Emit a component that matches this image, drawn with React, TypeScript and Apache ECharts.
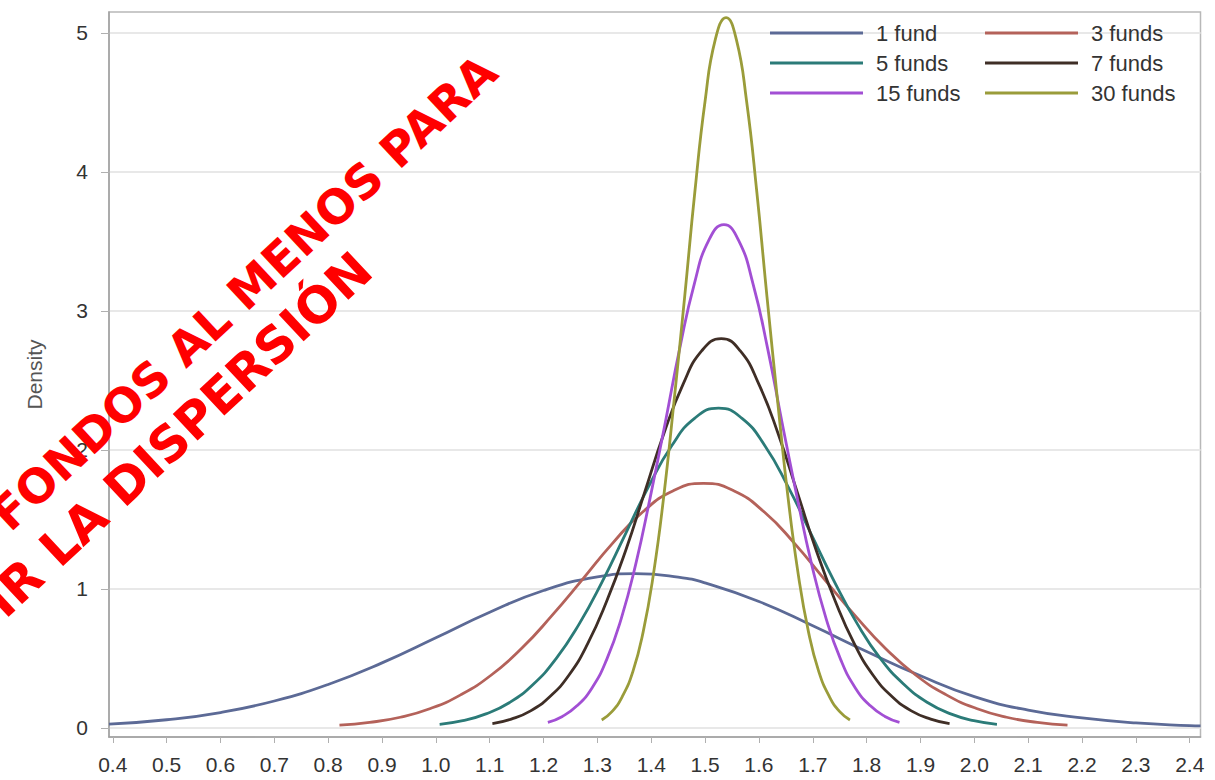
import React, { useEffect, useRef } from "react";
import * as echarts from "echarts";

const xTicks = [0.4, 0.5, 0.6, 0.7, 0.8, 0.9, 1.0, 1.1, 1.2, 1.3, 1.4, 1.5, 1.6, 1.7, 1.8, 1.9, 2.0, 2.1, 2.2, 2.3, 2.4];
const yTicks = [0, 1, 2, 3, 4, 5];
const seriesNames = ["1 fund", "3 funds", "5 funds", "7 funds", "15 funds", "30 funds"];
const seriesColors = ["#5c6a96", "#b4625a", "#2b7b78", "#3f2e26", "#a24fd4", "#9a9c3a"];
const legendLeftCol = ["1 fund", "5 funds", "15 funds"];
const legendRightCol = ["3 funds", "7 funds", "30 funds"];
const overlayLine1 = "FONDOS AL MENOS PARA";
const overlayLine2 = "IR LA DISPERSIÓN";

const fund1X = [0.393, 0.5, 0.6, 0.7, 0.8, 0.9, 1.0, 1.1, 1.2, 1.3, 1.37, 1.45, 1.5, 1.6, 1.7, 1.8, 1.9, 2.0, 2.1, 2.2, 2.3, 2.4, 2.42];
const fund1Y = [0.027, 0.059, 0.111, 0.194, 0.313, 0.468, 0.649, 0.833, 0.989, 1.087, 1.11, 1.085, 1.043, 0.91, 0.735, 0.55, 0.375, 0.225, 0.128, 0.072, 0.036, 0.017, 0.015];

const fund3X = [0.821, 0.877, 0.934, 0.99, 1.046, 1.103, 1.159, 1.215, 1.272, 1.328, 1.384, 1.441, 1.497, 1.553, 1.61, 1.666, 1.722, 1.779, 1.835, 1.891, 1.948, 2.004, 2.06, 2.117, 2.173];
const fund3Y = [0.02, 0.04, 0.077, 0.14, 0.238, 0.381, 0.571, 0.806, 1.067, 1.328, 1.553, 1.706, 1.76, 1.706, 1.553, 1.328, 1.067, 0.806, 0.571, 0.381, 0.238, 0.14, 0.077, 0.04, 0.02];

const fund5X = [1.007, 1.05, 1.093, 1.137, 1.18, 1.223, 1.266, 1.309, 1.352, 1.395, 1.438, 1.481, 1.525, 1.568, 1.611, 1.654, 1.697, 1.74, 1.783, 1.826, 1.87, 1.913, 1.956, 1.999, 2.042];
const fund5Y = [0.026, 0.052, 0.101, 0.183, 0.311, 0.497, 0.747, 1.053, 1.395, 1.736, 2.03, 2.229, 2.3, 2.229, 2.03, 1.736, 1.395, 1.053, 0.747, 0.497, 0.311, 0.183, 0.101, 0.052, 0.026];

const fund7X = [1.105, 1.14, 1.176, 1.211, 1.247, 1.282, 1.317, 1.353, 1.388, 1.423, 1.459, 1.494, 1.53, 1.565, 1.6, 1.636, 1.671, 1.706, 1.742, 1.777, 1.812, 1.848, 1.883, 1.919, 1.954];
const fund7Y = [0.031, 0.064, 0.123, 0.223, 0.379, 0.606, 0.909, 1.282, 1.698, 2.113, 2.471, 2.714, 2.8, 2.714, 2.471, 2.113, 1.698, 1.282, 0.909, 0.606, 0.379, 0.223, 0.123, 0.064, 0.031];

const fund15X = [1.208, 1.235, 1.262, 1.29, 1.317, 1.344, 1.371, 1.398, 1.426, 1.453, 1.48, 1.507, 1.535, 1.562, 1.589, 1.616, 1.643, 1.671, 1.698, 1.725, 1.752, 1.779, 1.807, 1.834, 1.861];
const fund15Y = [0.04, 0.083, 0.159, 0.288, 0.49, 0.783, 1.175, 1.657, 2.196, 2.732, 3.195, 3.509, 3.62, 3.509, 3.195, 2.732, 2.196, 1.657, 1.175, 0.783, 0.49, 0.288, 0.159, 0.083, 0.04];

const fund30X = [1.308, 1.327, 1.346, 1.366, 1.385, 1.404, 1.423, 1.442, 1.462, 1.481, 1.5, 1.519, 1.539, 1.558, 1.577, 1.596, 1.615, 1.635, 1.654, 1.673, 1.692, 1.711, 1.731, 1.75, 1.769];
const fund30Y = [0.057, 0.117, 0.224, 0.407, 0.691, 1.105, 1.659, 2.339, 3.099, 3.857, 4.51, 4.953, 5.11, 4.953, 4.51, 3.857, 3.099, 2.339, 1.659, 1.105, 0.691, 0.407, 0.224, 0.117, 0.057];

const seriesX = [fund1X, fund3X, fund5X, fund7X, fund15X, fund30X];
const seriesY = [fund1Y, fund3Y, fund5Y, fund7Y, fund15Y, fund30Y];

const axisFont = "'Liberation Sans', Arial, sans-serif";

export default function App() {
  const ref = useRef<HTMLDivElement>(null);
  useEffect(() => {
    if (!ref.current) return;
    const chart = echarts.init(ref.current, undefined, { renderer: "svg" });
    const rot = (43 * Math.PI) / 180;
    const legendCommon = {
      orient: "vertical" as const,
      top: 17,
      icon: "rect",
      itemWidth: 93,
      itemHeight: 3,
      itemGap: 8,
      selectedMode: false,
      textStyle: { fontSize: 22, color: "#333", fontFamily: axisFont, padding: [0, 0, 0, 8] },
    };
    chart.setOption({
      animation: false,
      backgroundColor: "#ffffff",
      grid: {
        left: 109,
        top: 12,
        right: 14.5,
        bottom: 43,
        show: true,
        borderColor: "#b8b8b8",
        borderWidth: 1.5,
        backgroundColor: "transparent",
      },
      legend: [
        { ...legendCommon, left: 765, data: legendLeftCol },
        { ...legendCommon, left: 980, data: legendRightCol },
      ],
      xAxis: {
        type: "value",
        min: 0.393,
        max: 2.42,
        axisLine: { show: true, onZero: false, lineStyle: { color: "#a0a0a0", width: 1.5 } },
        axisTick: { show: true, customValues: xTicks, length: 6, lineStyle: { color: "#b0b0b0" } },
        axisLabel: {
          customValues: xTicks,
          formatter: (v: number) => v.toFixed(1),
          fontSize: 21,
          color: "#333",
          fontFamily: axisFont,
          margin: 17,
        },
        splitLine: { show: false },
      },
      yAxis: {
        type: "value",
        min: -0.065,
        max: 5.15,
        name: "Density",
        nameLocation: "middle",
        nameGap: 64,
        nameTextStyle: { fontSize: 21, color: "#555", fontFamily: axisFont },
        axisLine: { show: true, onZero: false, lineStyle: { color: "#a0a0a0", width: 1.5 } },
        axisTick: { show: true, customValues: yTicks, length: 8, lineStyle: { color: "#b0b0b0" } },
        axisLabel: {
          customValues: yTicks,
          fontSize: 21,
          color: "#333",
          fontFamily: axisFont,
          margin: 21,
        },
        splitLine: { show: true, lineStyle: { color: "#e8e8e8", width: 2 } },
      },
      series: seriesNames.map((name, i) => ({
        name,
        type: "line",
        smooth: true,
        symbol: "none",
        color: seriesColors[i],
        itemStyle: { color: seriesColors[i] },
        lineStyle: { width: 2.8, color: seriesColors[i] },
        data: seriesX[i].map((x, j) => [x, seriesY[i][j]]),
        z: 2 + i,
      })),
      graphic: [
        {
          type: "text",
          x: 489,
          y: 64,
          rotation: rot,
          z: 100,
          style: {
            text: overlayLine1,
            fill: "#ff0000",
            font: "bold 47px 'DejaVu Sans', Verdana, sans-serif",
            align: "right",
            verticalAlign: "middle",
          },
        },
        {
          type: "text",
          x: 364,
          y: 262,
          rotation: rot,
          z: 100,
          style: {
            text: overlayLine2,
            fill: "#ff0000",
            font: "bold 50px 'DejaVu Sans', Verdana, sans-serif",
            align: "right",
            verticalAlign: "middle",
          },
        },
      ],
    });
    return () => chart.dispose();
  }, []);
  return (
    <div
      ref={ref}
      style={{ position: "fixed", left: 0, top: 0, width: 1215, height: 780, background: "#fff" }}
    />
  );
}
